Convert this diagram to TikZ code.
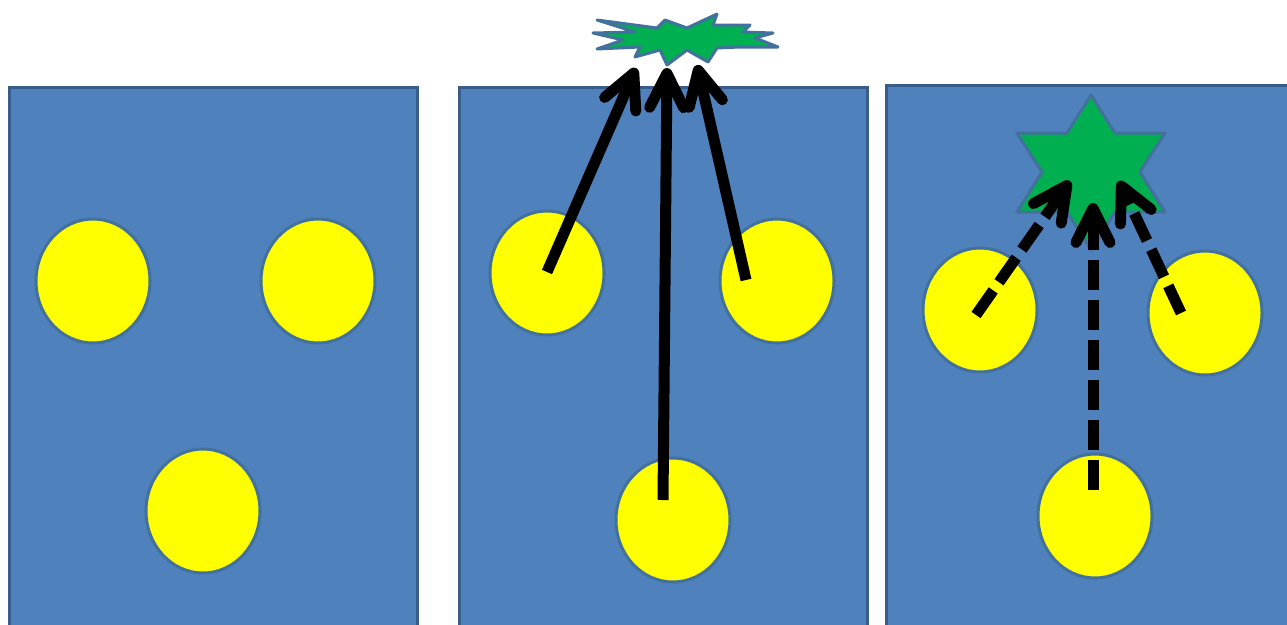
\documentclass[tikz,border=0pt]{standalone}
\usetikzlibrary{arrows.meta,shapes.geometric}
\definecolor{panelfill}{HTML}{4F81BD}
\definecolor{paneledge}{HTML}{385D8A}
\definecolor{dotfill}{HTML}{FFFF00}
\definecolor{dotedge}{HTML}{41719C}
\definecolor{starfill}{HTML}{00B050}
\begin{document}
\begin{tikzpicture}[x=1pt,y=-1pt,
  panel/.style={fill=panelfill,draw=paneledge,line width=3pt},
  dot/.style={ellipse,fill=dotfill,draw=dotedge,line width=3pt,
    minimum width=114pt,minimum height=124pt,inner sep=0pt},
  burst/.style={fill=starfill,draw=dotedge,line width=3pt,line join=round},
  ray/.style={line width=11pt,-{Straight Barb[length=34pt,width=34pt,round]}},
  dashray/.style={ray,dash pattern=on 30pt off 10pt}]
\useasboundingbox (0,0) rectangle (1287,624);
\clip (0,0) rectangle (1287,624);

% three panels, running off the bottom edge
\draw[panel] (9,87) rectangle (417,640);
\draw[panel] (459,87) rectangle (867,640);
\draw[panel] (886,85) rectangle (1300,640);

% yellow discs
\node[dot] (a1) at (93,281) {};
\node[dot] (a2) at (318,281) {};
\node[dot] (a3) at (203,511) {};
\node[dot] (b1) at (547,273) {};
\node[dot] (b2) at (777,281) {};
\node[dot] (b3) at (673,520) {};
\node[dot] (c1) at (980,310) {};
\node[dot] (c2) at (1205,313) {};
\node[dot] (c3) at (1095,516) {};

% explosion above the middle panel
\draw[burst] (597,20) -- (657,28) -- (665,20) -- (687,28) -- (717,14)
  -- (713,25) -- (750,25) -- (743,32) -- (773,33) -- (755,38)
  -- (778,47) -- (740,47) -- (717,48) -- (708,62) -- (687,50)
  -- (667,65) -- (660,50) -- (635,57) -- (640,47) -- (597,49)
  -- (623,40) -- (593,33) -- (635,32) -- cycle;

% six-pointed star in the right panel
\draw[burst] (1091,95) -- (1115,133) -- (1165,133) -- (1140,172)
  -- (1165,212) -- (1115,212) -- (1091,250) -- (1067,212)
  -- (1017,212) -- (1042,172) -- (1017,133) -- (1067,133) -- cycle;

% arrow start and end points
\coordinate (b1s) at (547,272);
\coordinate (b2s) at (746,280);
\coordinate (b3s) at (663,500);
\coordinate (bt1) at (636,68);
\coordinate (bt2) at (667,68);
\coordinate (bt3) at (697,65);
\coordinate (c1s) at (976,315);
\coordinate (c2s) at (1181,313);
\coordinate (c3s) at (1093,490);
\coordinate (ct1) at (1070,181);
\coordinate (ct2) at (1093,203);
\coordinate (ct3) at (1119,181);

% solid arrows into the explosion
\draw[ray] (b1s) -- (bt1);
\draw[ray] (b3s) -- (bt2);
\draw[ray] (b2s) -- (bt3);

% dashed arrows into the star
\draw[dashray] (c1s) -- (ct1);
\draw[dashray] (c3s) -- (ct2);
\draw[dashray] (c2s) -- (ct3);
\end{tikzpicture}
\end{document}
